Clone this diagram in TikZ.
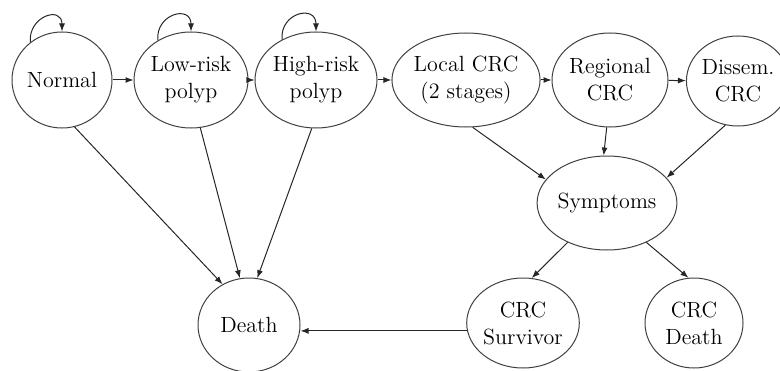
\documentclass[tikz,border=0pt]{standalone}
\usetikzlibrary{shapes.geometric,arrows.meta}
\begin{document}
\begin{tikzpicture}[x=0.5pt, y=0.5pt,
    >={Latex[length=4pt,width=3pt]},
    stage/.style={draw=black!75, line width=0.5pt, ellipse, inner sep=0pt,
      align=center, font=\fontsize{11}{13.5}\selectfont},
    link/.style={->, draw=black!85, line width=0.5pt}]
  \useasboundingbox (0,0) rectangle (780,370);

  \node[stage, minimum width=50pt, minimum height=48pt] (norm) at (62,290) {Normal};
  \node[stage, minimum width=51.5pt, minimum height=48pt] (lrp) at (191,290) {Low-risk\\polyp};
  \node[stage, minimum width=53.5pt, minimum height=48pt] (hrp) at (316,290) {High-risk\\polyp};

  \node[stage, minimum width=64pt, minimum height=47pt] (loc) at (466,290) {Local CRC\\(2 stages)};
  \node[stage, minimum width=58pt, minimum height=47pt] (reg) at (610,290) {Regional\\CRC};
  \node[stage, minimum width=47pt, minimum height=45pt] (dis) at (738,289) {Dissem.\\CRC};

  \node[stage, minimum width=68.5pt, minimum height=47pt] (sym) at (607,167) {Symptoms};

  \node[stage, minimum width=50pt, minimum height=45pt] (surv) at (523,47) {CRC\\Survivor};
  \node[stage, minimum width=49pt, minimum height=45pt] (crcd) at (694,47) {CRC\\Death};
  \node[stage, minimum width=51pt, minimum height=47pt] (death) at (249,45) {Death};

  % staying in the same state
  \draw[link] (norm.130) to[out=95, in=90, looseness=2] (norm.north);
  \draw[link] (lrp.130) to[out=95, in=90, looseness=2] (lrp.north);
  \draw[link] (hrp.130) to[out=95, in=90, looseness=2] (hrp.north);

  \draw[link] (norm) -- (lrp);
  \draw[link] (lrp) -- (hrp);
  \draw[link] (hrp) -- (loc);
  \draw[link] (loc) -- (reg);
  \draw[link] (reg) -- (dis);

  \draw[link] (norm.-75) -- (death.123);
  \draw[link] (lrp.-79) -- (death.101);
  \draw[link] (hrp.-95) -- (death.80);

  \draw[link] (loc.-82) -- (sym.159);
  \draw[link] (reg.-94) -- (sym.94);
  \draw[link] (dis.-106) -- (sym.23);

  \draw[link] (sym.-135) -- (surv.79);
  \draw[link] (sym.-45) -- (crcd.97);

  \draw[link] (surv.188) -- (surv.188 -| death.east);
\end{tikzpicture}
\end{document}
